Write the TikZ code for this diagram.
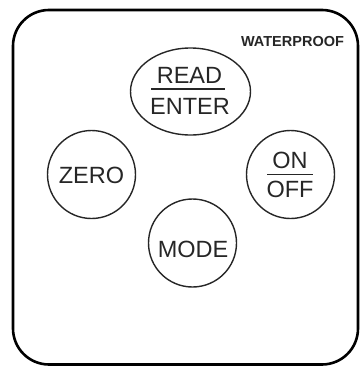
\documentclass[tikz,border=0pt]{standalone}
\usepackage{fontspec}
\setmainfont{Liberation Sans}
\usepackage{tikz}
\usetikzlibrary{arrows,shapes}

\begin{document}
\begin{tikzpicture}[x=1pt,y=-1pt,line join=round]
  \tikzstyle{button}=[circle,draw=black!85,line width=1.4pt,minimum size=88pt,inner sep=0pt]
  \tikzstyle{bigbutton}=[ellipse,draw=black!85,line width=1.4pt,minimum width=120pt,minimum height=87pt,inner sep=0pt]
  \tikzstyle{key}=[font=\fontsize{23.5}{23.5}\selectfont,text=black!85,inner sep=0pt]
  \tikzstyle{bar}=[draw=black!85,line width=1.4pt]
    \useasboundingbox (0,0) rectangle (360,367);
    % housing
    \draw [line width=2.6pt,rounded corners=36pt] (13,10) rectangle (358,364.5);
    \node [font=\bfseries\fontsize{14.5}{14.5}\selectfont,text=black!85,anchor=base] (wp) at (292.5,46) {WATERPROOF};
    % buttons
    \node [bigbutton] (read) at (190.5,91.5) {};
    \node [button] (zero) at (91.5,174.5) {};
    \node [button] (onoff) at (290.5,174.5) {};
    \node [button] (mode) at (192.5,243) {};
    % labels
    \node [key,anchor=base] (readtxt) at (189.5,83) {READ};
    \node [key,anchor=base] (entertxt) at (190,114) {ENTER};
    \draw [bar] (151,89) -- (225,89);
    \node [key,anchor=base] (zerotxt) at (91.5,183) {ZERO};
    \node [key,anchor=base] (ontxt) at (290,168) {ON};
    \node [key,anchor=base] (offtxt) at (290,197.5) {OFF};
    \draw [bar] (267,174.5) -- (313,174.5);
    \node [key,anchor=base] (modetxt) at (193,257) {MODE};
\end{tikzpicture}
\end{document}
